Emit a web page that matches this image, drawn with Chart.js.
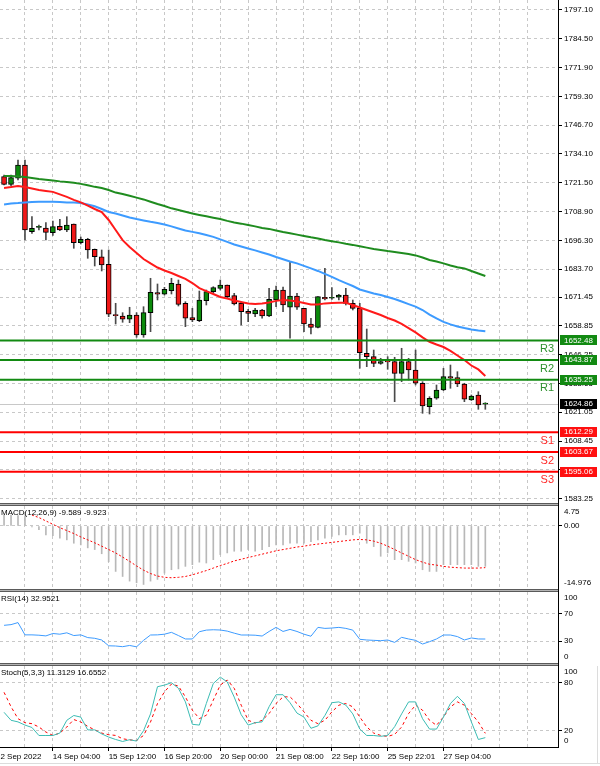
<!DOCTYPE html>
<html>
<head>
<meta charset="utf-8">
<script src="https://cdn.jsdelivr.net/npm/chart.js@4.4.0/dist/chart.umd.min.js"></script>
<style>
  html, body { margin: 0; padding: 0; background: #fff; }
  #wrap { position: relative; width: 600px; height: 766px; overflow: hidden; background: #fff; }
  canvas { position: absolute; left: 0; }
</style>
</head>
<body>
<div id="wrap">
  <canvas id="cMain" width="600" height="506" style="top:0px"></canvas>
  <canvas id="cMacd" width="600" height="86" style="top:506px"></canvas>
  <canvas id="cRsi" width="600" height="74" style="top:592px"></canvas>
  <canvas id="cStoch" width="600" height="100" style="top:666px"></canvas>
</div>
<script>
// H4 candles
var opens = [1724.15, 1720.82, 1723.45, 1729.26, 1700.08, 1702.0, 1701.7, 1699.64, 1702.44, 1700.82,
  1703.45, 1695.26, 1696.75, 1692.37, 1689.13, 1685.81, 1663.62, 1663.18, 1661.74, 1663.62,
  1654.87, 1664.63, 1673.38, 1672.68, 1674.25, 1677.19, 1668.74, 1662.44, 1661.13, 1669.88,
  1673.82, 1675.3, 1676.75, 1672.07, 1668.74, 1665.24, 1664.06, 1665.81, 1663.18, 1670.18,
  1674.56, 1667.0, 1671.94, 1666.55, 1659.68, 1658.23, 1671.37, 1670.93, 1671.37, 1672.37,
  1668.74, 1666.55, 1646.86, 1645.37, 1642.47, 1643.18, 1643.18, 1638.1, 1643.18, 1639.55,
  1633.73, 1623.49, 1627.17, 1630.8, 1636.62, 1636.19, 1633.43, 1626.42, 1628.61, 1624.6];
var highs = [1724.89, 1724.89, 1731.45, 1731.45, 1706.64, 1703.0, 1704.02, 1704.76, 1705.5, 1706.64,
  1703.45, 1697.75, 1697.19, 1692.5, 1692.07, 1692.07, 1668.74, 1664.63, 1667.0, 1664.63,
  1667.25, 1679.68, 1677.19, 1675.74, 1679.68, 1678.93, 1669.44, 1666.55, 1674.12, 1674.56,
  1676.0, 1678.93, 1676.75, 1673.11, 1669.44, 1666.11, 1666.55, 1666.11, 1675.3, 1676.31,
  1675.87, 1686.94, 1673.11, 1666.55, 1662.18, 1671.63, 1684.06, 1675.57, 1672.68, 1675.3,
  1670.18, 1668.74, 1657.49, 1648.3, 1644.67, 1645.37, 1645.11, 1649.05, 1644.67, 1648.3,
  1634.43, 1627.87, 1632.99, 1640.3, 1641.73, 1638.81, 1633.73, 1628.61, 1630.05, 1625.24];
var lows = [1720.51, 1720.08, 1722.70, 1696.44, 1699.37, 1700.82, 1696.44, 1698.5, 1700.51, 1700.08,
  1692.81, 1694.69, 1688.43, 1685.07, 1682.88, 1662.88, 1659.68, 1660.43, 1660.25, 1653.86,
  1653.86, 1656.31, 1670.2, 1672.37, 1672.81, 1667.56, 1658.5, 1660.69, 1660.69, 1668.0,
  1673.38, 1674.56, 1670.93, 1668.0, 1659.24, 1660.69, 1662.88, 1662.18, 1662.88, 1667.25,
  1665.06, 1653.43, 1666.11, 1656.31, 1655.3, 1657.93, 1670.18, 1670.49, 1670.18, 1668.0,
  1665.81, 1640.3, 1641.0, 1641.0, 1642.04, 1639.86, 1625.68, 1634.43, 1635.17, 1632.99,
  1620.60, 1620.29, 1626.73, 1630.49, 1631.54, 1632.24, 1625.68, 1626.2, 1622.35, 1622.35];
var closes = [1720.82, 1723.71, 1729.26, 1700.82, 1701.56, 1702.1, 1699.8, 1702.26, 1700.82, 1703.0,
  1695.26, 1696.75, 1692.07, 1689.13, 1685.5, 1663.93, 1663.36, 1661.74, 1663.62, 1654.87,
  1664.63, 1673.55, 1672.68, 1674.87, 1677.49, 1668.3, 1662.18, 1661.43, 1670.18, 1673.82,
  1675.57, 1676.75, 1671.63, 1668.43, 1665.06, 1664.36, 1665.81, 1663.18, 1670.49, 1674.56,
  1668.0, 1671.94, 1667.0, 1659.68, 1658.23, 1671.63, 1670.62, 1671.0, 1672.37, 1668.74,
  1666.55, 1647.12, 1645.37, 1642.47, 1643.18, 1643.1, 1638.1, 1643.18, 1639.55, 1633.73,
  1623.8, 1627.17, 1630.8, 1636.62, 1635.92, 1633.43, 1626.73, 1628.17, 1624.24, 1624.86];

// moving averages
var maRed = [1719.2, 1719.6, 1720.1, 1719.6, 1719.0, 1718.3, 1717.9, 1717.5, 1716.4, 1715.3,
  1714.0, 1712.9, 1711.5, 1710.0, 1708.7, 1705.2, 1700.8, 1696.4, 1693.4, 1690.8,
  1688.1, 1686.2, 1684.4, 1683.1, 1682.0, 1680.7, 1679.4, 1677.6, 1675.4, 1674.1,
  1672.8, 1671.5, 1670.8, 1670.0, 1669.3, 1668.7, 1668.4, 1668.7, 1669.1, 1669.8,
  1670.2, 1670.0, 1669.5, 1668.9, 1668.2, 1668.2, 1668.7, 1668.9, 1669.0, 1669.0,
  1668.0, 1666.9, 1665.8, 1664.7, 1663.6, 1662.3, 1661.2, 1659.7, 1657.9, 1656.0,
  1653.8, 1651.9, 1650.7, 1649.6, 1647.9, 1645.9, 1643.9, 1641.5, 1639.8, 1636.9];
var maBlue = [1712.0, 1712.4, 1712.6, 1712.9, 1713.1, 1713.2, 1713.2, 1713.2, 1713.1, 1712.9,
  1712.8, 1712.6, 1712.0, 1711.2, 1710.0, 1708.7, 1708.0, 1707.2, 1706.3, 1705.6,
  1705.0, 1704.4, 1703.9, 1703.2, 1702.4, 1701.5, 1700.6, 1700.0, 1699.4, 1698.6,
  1697.8, 1696.7, 1695.6, 1694.5, 1693.6, 1692.7, 1691.9, 1691.0, 1690.1, 1689.0,
  1688.0, 1687.0, 1686.2, 1685.1, 1684.0, 1682.9, 1681.6, 1680.3, 1678.9, 1677.6,
  1676.3, 1674.8, 1673.9, 1673.0, 1672.4, 1671.5, 1670.6, 1669.5, 1668.4, 1667.3,
  1665.8, 1663.8, 1662.1, 1660.6, 1659.5, 1658.6, 1657.9, 1657.3, 1656.8, 1656.5];
var maGreen = [1724.4, 1724.4, 1724.2, 1724.0, 1723.6, 1723.1, 1722.8, 1722.5, 1722.1, 1721.8,
  1721.5, 1721.0, 1720.4, 1719.7, 1719.2, 1718.3, 1717.2, 1716.6, 1715.8, 1715.0,
  1714.2, 1713.2, 1712.2, 1711.3, 1710.3, 1709.6, 1708.8, 1708.0, 1707.4, 1706.8,
  1706.2, 1705.6, 1704.8, 1704.1, 1703.6, 1703.0, 1702.4, 1701.7, 1701.3, 1700.6,
  1699.9, 1699.4, 1698.8, 1698.2, 1697.6, 1697.1, 1696.4, 1695.9, 1695.4, 1694.8,
  1694.3, 1693.7, 1693.1, 1692.5, 1692.1, 1691.6, 1691.2, 1690.8, 1690.3, 1689.7,
  1688.8, 1687.7, 1687.0, 1686.2, 1685.3, 1684.5, 1684.0, 1682.9, 1681.8, 1680.7];

// pivot levels
var levelNames = ['R3', 'R2', 'R1', 'S1', 'S2', 'S3'];
var levelValues = [1652.48, 1643.87, 1635.25, 1612.29, 1603.67, 1595.06];
var lastPrice = 1624.86;

var priceTicks = [1797.10, 1784.50, 1771.90, 1759.30, 1746.70, 1734.10, 1721.50, 1708.90, 1696.30,
  1683.70, 1671.45, 1658.85, 1646.25, 1633.65, 1621.05, 1608.45, 1595.85, 1583.25];

// MACD(12,26,9)
var macdMain = [2.6, 2.6, 2.5, 2.4, -0.2, -0.9, -2.1, -2.3, -2.9, -3.3,
  -4.1, -4.5, -5.2, -5.6, -6.6, -8.5, -10.8, -12.0, -13.1, -13.5,
  -13.9, -13.1, -12.7, -11.2, -10.4, -10.2, -9.6, -9.2, -8.6, -8.8,
  -8.0, -6.8, -6.4, -6.0, -6.0, -5.6, -6.0, -5.6, -4.9, -4.5,
  -4.5, -4.1, -4.1, -4.1, -3.7, -3.3, -2.9, -2.5, -2.1, -2.1,
  -2.1, -1.7, -4.1, -4.9, -7.2, -6.4, -8.0, -8.0, -8.4, -8.8,
  -10.4, -10.8, -10.8, -9.2, -9.2, -9.2, -9.2, -9.2, -9.6, -9.6];
var macdSignal = [null, null, null, null, 2.6, 2.0, 1.2, 0.4, -0.4, -1.1,
  -1.8, -2.6, -3.3, -4.0, -4.8, -5.6, -6.4, -7.4, -8.4, -9.5,
  -10.5, -11.3, -11.9, -12.2, -12.3, -12.2, -12.0, -11.6, -11.1, -10.6,
  -10.0, -9.4, -8.9, -8.3, -7.9, -7.5, -7.1, -6.7, -6.3, -5.9,
  -5.6, -5.3, -5.0, -4.8, -4.5, -4.3, -4.1, -3.9, -3.7, -3.5,
  -3.3, -3.2, -3.3, -3.6, -4.1, -4.8, -5.6, -6.4, -7.2, -8.0,
  -8.6, -9.1, -9.3, -9.6, -9.8, -9.9, -10.0, -10.0, -10.0, -9.9];

// RSI(14)
var rsiValues = [53, 54, 57, 39, 39, 38.5, 37.5, 41, 40, 42,
  38, 39, 35, 34, 31.5, 23, 22.7, 21.7, 23.5, 21.5,
  31, 38.8, 39, 40, 42.7, 38, 33, 33, 43.6, 46,
  46.5, 46.1, 44.5, 41.5, 38.8, 38.8, 38.5, 37.3, 44, 50,
  44, 47, 44, 40, 37, 50, 48.5, 49, 50, 48.5,
  46, 32.5, 31.5, 31, 30.5, 31.5, 28, 35.4, 33, 31,
  25.6, 29, 33, 38.8, 38.8, 36.5, 31.5, 34.5, 33, 32.95];

// Stoch(5,3,3)
var stochMain = [43, 33, 31, 27, 24, 14, 14, 14, 17, 33,
  39, 37, 21, 21, 16, 12, 9, 6.5, 8.7, 7,
  20, 41, 75, 77, 80, 73, 56, 28, 27, 54,
  79, 87, 81, 62, 40, 27, 30, 31, 50, 65,
  65, 55, 42, 37, 23, 26, 39, 55, 56, 52,
  41, 22, 14, 14, 13, 14, 25, 41, 56, 56,
  35, 22, 22, 37, 54, 63, 54, 31, 9, 11.3];
var stochSignal = [68, 50, 35, 30, 28.8, 24.6, 18.3, 14.1, 17, 24.6,
  33.9, 30.9, 25.4, 21, 17, 15, 14.1, 9.9, 8.5, 7.8,
  14, 30.9, 54, 68.6, 78.3, 75.8, 62.3, 45.6, 35.1, 39.3,
  58.2, 77, 83.4, 73, 51.9, 33, 29.6, 33, 41.4, 54,
  62.3, 62.3, 54, 43.5, 33, 28.8, 33, 43.5, 51.9, 54,
  49.8, 37.2, 24.6, 17, 14.1, 12.8, 15.4, 24.6, 41.4, 51.9,
  45.6, 33, 26.7, 37.2, 49.8, 56, 51.9, 41.4, 30.9, 16.7];

var timeLabels = ['12 Sep 2022', '14 Sep 04:00', '15 Sep 12:00', '16 Sep 20:00', '20 Sep 00:00',
  '21 Sep 08:00', '22 Sep 16:00', '25 Sep 22:01', '27 Sep 04:00'];
var timeLabelBars = [-1.16, 7, 15, 23, 31, 39, 47, 55, 63];

var FONT = '"Liberation Sans", Arial, sans-serif';
Chart.defaults.font.family = FONT;
Chart.defaults.font.size = 8;
Chart.defaults.color = '#000';
Chart.defaults.animation = false;
Chart.defaults.plugins.legend.display = false;
Chart.defaults.plugins.tooltip.enabled = false;

var gridColor = '#c8c8c8';
var xMin = -0.58, xMax = 79.42;

function pts(arr) {
  return arr.map(function (v, i) { return { x: i, y: v }; });
}

function noPad(s) {
  s.paddingLeft = 0; s.paddingRight = 0; s.paddingTop = 0; s.paddingBottom = 0;
}

function xAxis(showLabels) {
  return {
    type: 'linear',
    position: 'bottom',
    min: xMin,
    max: xMax,
    offset: false,
    afterBuildTicks: function (s) {
      var t = [];
      if (showLabels) t.push({ value: timeLabelBars[0] });
      for (var b = 3; b <= 75; b += 4) t.push({ value: b });
      s.ticks = t;
    },
    afterFit: function (s) {
      noPad(s);
      s.height = showLabels ? 19 : 0;
    },
    grid: {
      color: gridColor, offset: false, drawTicks: showLabels, tickLength: 4,
      tickColor: function (c) { return timeLabelBars.indexOf(c.tick && c.tick.value) >= 0 ? '#000' : 'rgba(0,0,0,0)'; },
      tickBorderDash: []
    },
    border: { display: false, dash: [3, 3] },
    ticks: {
      display: showLabels, autoSkip: false, maxRotation: 0, minRotation: 0, align: 'start', padding: 1,
      callback: function (v) {
        var k = timeLabelBars.indexOf(v);
        return k >= 0 ? timeLabels[k] : '';
      }
    }
  };
}

function yAxis(min, max, values, fmt) {
  return {
    type: 'linear',
    position: 'right',
    min: min,
    max: max,
    afterBuildTicks: function (s) {
      s.ticks = values.map(function (v) { return { value: v }; });
    },
    afterFit: function (s) {
      noPad(s);
      s.width = 42;
    },
    grid: { color: gridColor, drawTicks: true, tickLength: 4, tickColor: '#000', tickBorderDash: [] },
    border: { display: false, dash: [3, 3] },
    ticks: { padding: 2, autoSkip: false, callback: fmt }
  };
}

// separators, right axis line, panel titles and edge labels
var panelPlugin = {
  id: 'panel',
  afterDraw: function (chart, args, o) {
    var ctx = chart.ctx, a = chart.chartArea;
    ctx.save();
    if (o.separator) {
      ctx.fillStyle = '#5a5a5a';
      ctx.fillRect(0, a.bottom, a.right, 1);
      ctx.fillStyle = '#b4b4b4';
      ctx.fillRect(0, a.bottom + 1, a.right, 1);
      ctx.fillStyle = '#5a5a5a';
      ctx.fillRect(0, a.bottom + 2, a.right, 1);
    }
    ctx.fillStyle = '#000';
    ctx.fillRect(a.right, 0, 1, o.separator ? chart.height : a.bottom + 1);
    if (o.bottomLine) {
      ctx.fillRect(0, a.bottom, a.right, 1);
      ctx.fillStyle = '#dcdcdc';
      ctx.fillRect(0, chart.height - 3, chart.width, 1);
      ctx.fillRect(597, 0, 1, chart.height - 3);
    }
    ctx.font = '8px ' + FONT;
    ctx.textBaseline = 'middle';
    ctx.textAlign = 'left';
    ctx.fillStyle = '#000';
    if (o.title) ctx.fillText(o.title, 1, a.top + 7);
    if (o.topLabel) ctx.fillText(o.topLabel, a.right + 6, a.top + 6);
    if (o.bottomLabel) ctx.fillText(o.bottomLabel, a.right + 6, a.bottom - 6);
    ctx.restore();
  }
};

// pivot lines, last price line and axis boxes
var levelPlugin = {
  id: 'levels',
  beforeDatasetsDraw: function (chart) {
    var ctx = chart.ctx, a = chart.chartArea, y = Math.round(chart.scales.y.getPixelForValue(lastPrice));
    ctx.save();
    ctx.fillStyle = '#c8c8c8';
    ctx.fillRect(a.left, y, a.right - a.left, 1);
    ctx.restore();
  },
  afterDatasetsDraw: function (chart) {
    var ctx = chart.ctx, a = chart.chartArea, ys = chart.scales.y;
    ctx.save();
    ctx.font = '11px ' + FONT;
    ctx.textAlign = 'right';
    ctx.textBaseline = 'middle';
    for (var i = 0; i < levelValues.length; i++) {
      var isRes = levelNames[i].charAt(0) === 'R';
      var y = ys.getPixelForValue(levelValues[i]);
      ctx.strokeStyle = isRes ? '#128a12' : '#ff0000';
      ctx.lineWidth = 2;
      ctx.beginPath();
      ctx.moveTo(a.left, y);
      ctx.lineTo(a.right, y);
      ctx.stroke();
      ctx.fillStyle = isRes ? '#2f912f' : '#ff2a2a';
      ctx.fillText(levelNames[i], a.right - 4, y + 8.5);
    }
    ctx.restore();
  },
  afterDraw: function (chart) {
    var ctx = chart.ctx, a = chart.chartArea, ys = chart.scales.y;
    ctx.save();
    ctx.font = '8px ' + FONT;
    ctx.textAlign = 'left';
    ctx.textBaseline = 'middle';
    function box(v, color) {
      var y = ys.getPixelForValue(v);
      ctx.fillStyle = color;
      ctx.fillRect(a.right + 2, Math.round(y) - 5, 37, 10);
      ctx.fillStyle = '#fff';
      ctx.fillText(v.toFixed(2), a.right + 6, y);
    }
    for (var i = 0; i < levelValues.length; i++) {
      box(levelValues[i], levelNames[i].charAt(0) === 'R' ? '#128a12' : '#ff1010');
    }
    box(lastPrice, '#000');
    ctx.restore();
  }
};

function fmt2(v) { return Number(v).toFixed(2); }

// main chart
var wickData = [], bodyData = [], bodyColors = [];
for (var i = 0; i < opens.length; i++) {
  wickData.push({ x: i, y: [lows[i], highs[i]] });
  bodyData.push({ x: i, y: [opens[i], closes[i]] });
  bodyColors.push(closes[i] >= opens[i] ? '#0b8a0b' : '#f01818');
}

new Chart(document.getElementById('cMain'), {
  type: 'bar',
  data: {
    datasets: [
      { type: 'line', data: pts(maRed), borderColor: '#ff1a1a', borderWidth: 2, pointRadius: 0, order: 0 },
      { type: 'line', data: pts(maBlue), borderColor: '#3d9bff', borderWidth: 2, pointRadius: 0, order: 0 },
      { type: 'line', data: pts(maGreen), borderColor: '#1f8c1f', borderWidth: 2, pointRadius: 0, order: 0 },
      { type: 'bar', data: bodyData, backgroundColor: bodyColors, borderColor: '#000', borderWidth: 1,
        borderSkipped: false, barThickness: 5, grouped: false, minBarLength: 1, order: 1 },
      { type: 'bar', data: wickData, backgroundColor: '#4a4a4a', barThickness: 1, grouped: false, order: 2 }
    ]
  },
  options: {
    responsive: false,
    layout: { padding: { left: 0, right: 0, top: 0, bottom: 3 } },
    scales: {
      x: xAxis(false),
      y: yAxis(1581.34, 1801.476, priceTicks, fmt2)
    },
    plugins: { panel: { separator: true } }
  },
  plugins: [panelPlugin, levelPlugin]
});

// MACD
new Chart(document.getElementById('cMacd'), {
  type: 'bar',
  data: {
    datasets: [
      { type: 'line', data: pts(macdSignal), borderColor: '#ff0000', borderWidth: 1, borderDash: [2, 2],
        pointRadius: 0, order: 0 },
      { type: 'bar', data: pts(macdMain), backgroundColor: '#b8b8b8', barThickness: 1, grouped: false, order: 1 }
    ]
  },
  options: {
    responsive: false,
    layout: { padding: { left: 0, right: 0, top: 0, bottom: 3 } },
    scales: {
      x: xAxis(false),
      y: yAxis(-14.976, 4.75, [0], fmt2)
    },
    plugins: { panel: { separator: true, title: 'MACD(12,26,9) -9.589 -9.923', topLabel: '4.75', bottomLabel: '-14.976' } }
  },
  plugins: [panelPlugin]
});

// RSI
new Chart(document.getElementById('cRsi'), {
  type: 'line',
  data: {
    datasets: [
      { data: pts(rsiValues), borderColor: '#3d9bff', borderWidth: 1, pointRadius: 0 }
    ]
  },
  options: {
    responsive: false,
    layout: { padding: { left: 0, right: 0, top: 0, bottom: 3 } },
    scales: {
      x: xAxis(false),
      y: yAxis(-2.2, 101.8, [70, 30], function (v) { return String(v); })
    },
    plugins: { panel: { separator: true, title: 'RSI(14) 32.9521', topLabel: '100', bottomLabel: '0' } }
  },
  plugins: [panelPlugin]
});

// Stochastic
new Chart(document.getElementById('cStoch'), {
  type: 'line',
  data: {
    datasets: [
      { data: pts(stochMain), borderColor: '#3cbcb4', borderWidth: 1, pointRadius: 0 },
      { data: pts(stochSignal), borderColor: '#ff0000', borderWidth: 1, borderDash: [3, 3], pointRadius: 0 }
    ]
  },
  options: {
    responsive: false,
    layout: { padding: 0 },
    scales: {
      x: xAxis(true),
      y: yAxis(-0.4, 100.9, [80, 20], function (v) { return String(v); })
    },
    plugins: { panel: { bottomLine: true, title: 'Stoch(5,3,3) 11.3129 16.6552', topLabel: '100', bottomLabel: '0' } }
  },
  plugins: [panelPlugin]
});
</script>
</body>
</html>
